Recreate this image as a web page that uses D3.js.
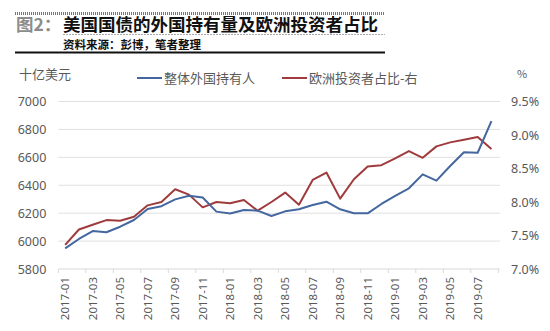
<!DOCTYPE html>
<html>
<head>
<meta charset="utf-8">
<script src="https://cdn.jsdelivr.net/npm/d3@7"></script>
<style>
  html, body { margin: 0; padding: 0; background: #fff; }
  svg { display: block; font-family: "Noto Sans CJK SC", "Noto Sans", sans-serif; }
</style>
</head>
<body>
<svg id="chart" width="550" height="331"></svg>
<script>
// Monthly categories, 2017-01 .. 2019-08
const months = [
  "2017-01","2017-02","2017-03","2017-04","2017-05","2017-06","2017-07","2017-08",
  "2017-09","2017-10","2017-11","2017-12","2018-01","2018-02","2018-03","2018-04",
  "2018-05","2018-06","2018-07","2018-08","2018-09","2018-10","2018-11","2018-12",
  "2019-01","2019-02","2019-03","2019-04","2019-05","2019-06","2019-07","2019-08"
];

// Total foreign holdings of US Treasuries (billion USD, left axis)
const foreignHoldings = [
  5948, 6015, 6072, 6063, 6103, 6151, 6230, 6250,
  6299, 6325, 6312, 6211, 6198, 6222, 6218, 6180,
  6213, 6228, 6258, 6282, 6228, 6199, 6199, 6266,
  6324, 6378, 6478, 6433, 6538, 6636, 6633, 6860
];

// European investors' share (%, right axis)
const europeShare = [
  7.36, 7.59, 7.66, 7.73, 7.72, 7.78, 7.95, 8.00,
  8.19, 8.11, 7.92, 8.00, 7.98, 8.03, 7.87, 8.00,
  8.14, 7.96, 8.33, 8.44, 8.05, 8.34, 8.53, 8.55,
  8.65, 8.76, 8.66, 8.83, 8.89, 8.93, 8.97, 8.79
];

const leftTicks = [5800, 6000, 6200, 6400, 6600, 6800, 7000];
const rightTicks = [7.0, 7.5, 8.0, 8.5, 9.0, 9.5];

const seriesNames = ["整体外国持有人", "欧洲投资者占比-右"];
const colors = { blue: "#44679f", red: "#a03b3d" };
const textGray = "#595959";

const svg = d3.select("#chart");

// ---- Header ----
const header = svg.append("g");
header.append("line")
  .attr("x1", 15).attr("x2", 385).attr("y1", 13.5).attr("y2", 13.5)
  .attr("stroke", "#777").attr("stroke-width", 3).attr("stroke-dasharray", "1,1");
header.append("text")
  .attr("x", 16).attr("y", 30.5)
  .attr("font-size", 17.5).attr("font-weight", "bold").attr("fill", "#8c8c8c")
  .text("图2：");
header.append("text")
  .attr("x", 63).attr("y", 30.5)
  .attr("font-size", 17.5).attr("font-weight", "bold").attr("fill", "#111")
  .text("美国国债的外国持有量及欧洲投资者占比");
header.append("line")
  .attr("x1", 63).attr("x2", 385).attr("y1", 34.5).attr("y2", 34.5)
  .attr("stroke", "#aaa").attr("stroke-width", 1).attr("stroke-dasharray", "2,1");
header.append("text")
  .attr("x", 63).attr("y", 48.5)
  .attr("font-size", 11.5).attr("font-weight", "bold").attr("fill", "#111")
  .text("资料来源：彭博，笔者整理");
header.append("line")
  .attr("x1", 15).attr("x2", 385).attr("y1", 52.5).attr("y2", 52.5)
  .attr("stroke", "#111").attr("stroke-width", 2);

// ---- Scales ----
const plotLeft = 58.3, plotRight = 498.3, plotTop = 101.5, plotBottom = 269;
const x = d3.scaleBand().domain(months).range([plotLeft, plotRight]).padding(0);
const yLeft = d3.scaleLinear().domain([5800, 7000]).range([plotBottom, plotTop]);
const yRight = d3.scaleLinear().domain([7.0, 9.5]).range([plotBottom, plotTop]);
const cx = m => x(m) + x.bandwidth() / 2;

// ---- Gridlines ----
svg.append("g")
  .selectAll("line")
  .data(leftTicks.slice(1))
  .join("line")
  .attr("x1", plotLeft).attr("x2", plotRight + 2)
  .attr("y1", d => yLeft(d)).attr("y2", d => yLeft(d))
  .attr("stroke", "#e0e0e0").attr("stroke-width", 1);

// ---- Left axis ----
const leftAxis = svg.append("g")
  .attr("transform", `translate(${plotLeft - 12},0)`)
  .call(d3.axisLeft(yLeft).tickValues(leftTicks).tickSize(0).tickPadding(0).tickFormat(d3.format("d")));
leftAxis.select(".domain").remove();
leftAxis.selectAll("text")
  .attr("font-size", 12.5).attr("fill", textGray)
  .attr("font-family", "\"Noto Sans\", sans-serif");

svg.append("text")
  .attr("x", 19).attr("y", 78.5)
  .attr("font-size", 13).attr("fill", textGray)
  .text("十亿美元");

// ---- Right axis ----
const rightAxis = svg.append("g")
  .attr("transform", `translate(511,0)`)
  .call(d3.axisRight(yRight).tickValues(rightTicks).tickSize(0).tickPadding(0).tickFormat(d => d3.format(".1f")(d) + "%"));
rightAxis.select(".domain").remove();
rightAxis.selectAll("text")
  .attr("font-size", 12.5).attr("fill", textGray)
  .attr("font-family", "\"Noto Sans\", sans-serif");

svg.append("text")
  .attr("x", 517).attr("y", 77.5)
  .attr("font-size", 11).attr("fill", textGray)
  .text("%");

// ---- X axis ----
const xg = svg.append("g");
xg.append("line")
  .attr("x1", plotLeft).attr("x2", plotRight + 1.5)
  .attr("y1", plotBottom).attr("y2", plotBottom)
  .attr("stroke", "#d9d9d9").attr("stroke-width", 1);
const tickPos = months.filter((m, i) => i % 2 === 0).map(m => x(m)).concat([plotRight]);
xg.selectAll("line.tick")
  .data(tickPos)
  .join("line")
  .attr("class", "tick")
  .attr("x1", d => d).attr("x2", d => d)
  .attr("y1", plotBottom).attr("y2", plotBottom + 4)
  .attr("stroke", "#d9d9d9").attr("stroke-width", 1);
xg.selectAll("text")
  .data(months.filter((m, i) => i % 2 === 0))
  .join("text")
  .attr("transform", d => `translate(${cx(d) + 4},${plotBottom + 8}) rotate(-90)`)
  .attr("text-anchor", "end")
  .attr("font-size", 11.5).attr("fill", textGray)
  .attr("font-family", "\"Noto Sans\", sans-serif")
  .text(d => d);

// ---- Lines ----
const lineLeft = d3.line().x((d, i) => cx(months[i])).y(d => yLeft(d));
const lineRight = d3.line().x((d, i) => cx(months[i])).y(d => yRight(d));

svg.append("path")
  .datum(europeShare)
  .attr("d", lineRight)
  .attr("fill", "none").attr("stroke", colors.red).attr("stroke-width", 2)
  .attr("stroke-linejoin", "round");

svg.append("path")
  .datum(foreignHoldings)
  .attr("d", lineLeft)
  .attr("fill", "none").attr("stroke", colors.blue).attr("stroke-width", 2)
  .attr("stroke-linejoin", "round");

// ---- Legend ----
const legend = [
  { name: seriesNames[0], color: colors.blue, x: 137 },
  { name: seriesNames[1], color: colors.red, x: 282 }
];
const lg = svg.append("g").selectAll("g").data(legend).join("g")
  .attr("transform", d => `translate(${d.x},78)`);
lg.append("line")
  .attr("x1", 0).attr("x2", 25).attr("y1", 0).attr("y2", 0)
  .attr("stroke", d => d.color).attr("stroke-width", 2);
lg.append("text")
  .attr("x", 27).attr("y", 4.5)
  .attr("font-size", 13).attr("fill", textGray)
  .text(d => d.name);
</script>
</body>
</html>
